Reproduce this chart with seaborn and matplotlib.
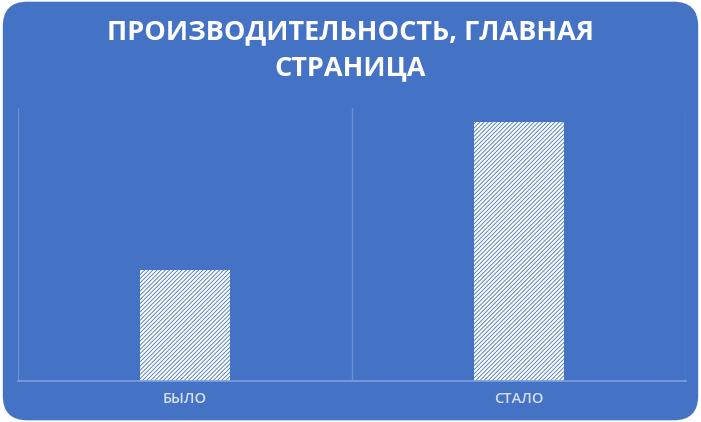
import matplotlib
matplotlib.use("Agg")
import matplotlib.pyplot as plt
import seaborn as sns
import pandas as pd
from matplotlib.patches import FancyBboxPatch

categories = ["БЫЛО", "СТАЛО"]
values = [49, 114]
title_text = "ПРОИЗВОДИТЕЛЬНОСТЬ, ГЛАВНАЯ\nСТРАНИЦА"

BG = "#4472C4"
GRID = "#6B8FD3"
LABEL = "#D6DFF2"

sns.set_theme(style="white")
plt.rcParams["font.family"] = ["Open Sans", "DejaVu Sans"]
plt.rcParams["hatch.linewidth"] = 1.5

fig = plt.figure(figsize=(7.01, 4.22), dpi=100)
fig.patch.set_facecolor("white")
bg = FancyBboxPatch((0.004, 0.004), 0.992, 0.992,
                    boxstyle="round,pad=0,rounding_size=0.035",
                    transform=fig.transFigure, facecolor=BG, edgecolor="none",
                    mutation_aspect=701/422, zorder=-10)
fig.patches.append(bg)

ax = fig.add_axes([18/701, 1-381/422, 668/701, 273/422])
ax.set_zorder(5)
ax.set_facecolor("none")
df = pd.DataFrame({"cat": categories, "val": values})
sns.barplot(data=df, x="cat", y="val", ax=ax, color=BG, width=0.272,
            edgecolor="white", linewidth=0, hatch="////////", saturation=1)
for p in ax.patches:
    p.set_facecolor(BG)
    p.set_edgecolor("white")
    p.set_linewidth(0)
    p.set_zorder(3)

ax.set_xlim(-0.5, 1.5)
ax.set_ylim(0, 120)
ax.set_yticks([])
ax.set_xlabel("")
ax.set_ylabel("")
for x in [-0.5, 0.5, 1.5]:
    ax.axvline(x, color=GRID, lw=1.0, zorder=1)
for s in ["top", "left", "right"]:
    ax.spines[s].set_visible(False)
ax.spines["bottom"].set_color("#7F9FDB")
ax.spines["bottom"].set_linewidth(1.2)
ax.spines["bottom"].set_zorder(4)
ax.tick_params(axis="x", length=0, pad=8, colors=LABEL, labelsize=10.5)
for t in ax.get_xticklabels():
    t.set_color(LABEL)
    t.set_fontweight("semibold")

fig.text(0.5, 1-50/422, title_text, ha="center", va="center", color="white",
         fontsize=19.5, fontweight="bold", linespacing=1.5, zorder=6)

fig.savefig("out.png", dpi=100, facecolor="white")
